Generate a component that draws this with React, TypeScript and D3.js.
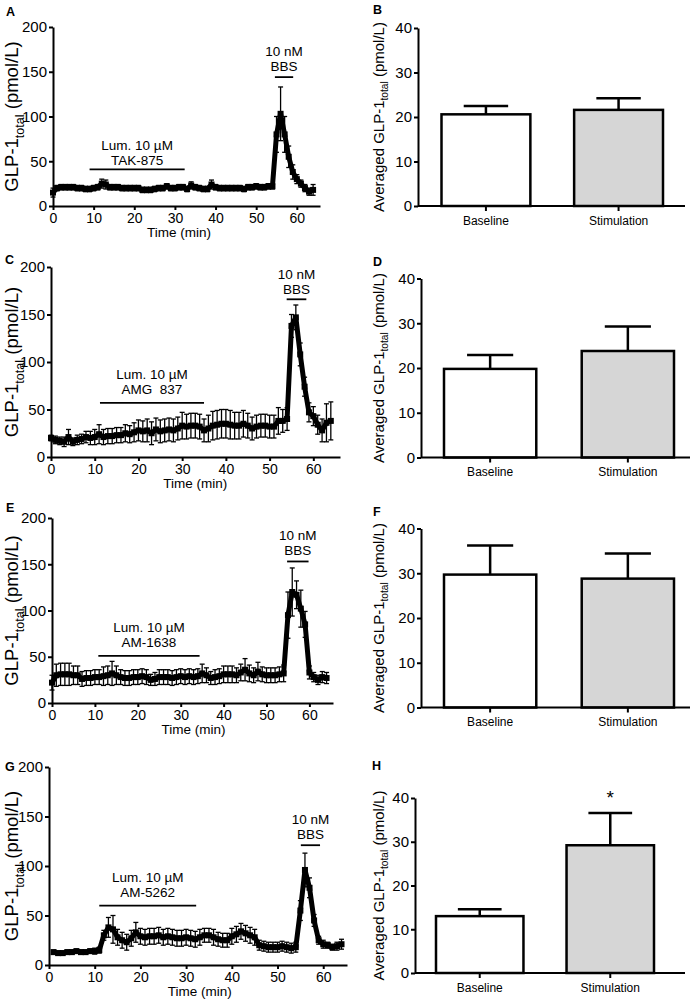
import React, { useRef, useEffect } from "react";
import * as d3 from "d3";

const FONT = "Arial, 'Liberation Sans', Helvetica, sans-serif";

// sampling times (min)
const minutes = [0, 1, 2, 3, 4, 5, 6, 7, 8, 9, 10, 11, 12, 13, 14, 15, 16, 17, 18, 19, 20, 21, 22, 23, 24, 25, 26, 27, 28, 29, 30, 31, 32, 33, 34, 35, 36, 37, 38, 39, 40, 41, 42, 43, 44, 45, 46, 47, 48, 49, 50, 51, 52, 53, 54, 55, 56, 57, 58, 59, 60, 61, 62, 63, 64];
const minutesG = [1, 2, 3, 4, 5, 6, 7, 8, 9, 10, 11, 12, 13, 14, 15, 16, 17, 18, 19, 20, 21, 22, 23, 24, 25, 26, 27, 28, 29, 30, 31, 32, 33, 34, 35, 36, 37, 38, 39, 40, 41, 42, 43, 44, 45, 46, 47, 48, 49, 50, 51, 52, 53, 54, 55, 56, 57, 58, 59, 60, 61, 62, 63, 64];

// A: TAK-875
const meanA = [15, 20, 21, 21, 21, 21, 20, 20, 19, 19, 20, 21, 25, 24, 21, 21, 21, 20, 20, 20, 20, 20, 18, 18, 18, 19, 20, 20, 22, 20, 20, 21, 21, 19, 23, 21, 20, 19, 19, 24, 21, 20, 20, 20, 20, 20, 20, 19, 21, 21, 22, 21, 21, 22, 22, 80, 103, 80, 55, 38, 30, 25, 20, 16, 18];
const errA = [5, 3, 3, 3, 3, 3, 3, 3, 3, 3, 3, 3, 5, 5, 3, 3, 3, 3, 3, 3, 3, 3, 3, 3, 3, 3, 3, 3, 3, 3, 3, 3, 3, 3, 4, 3, 3, 3, 3, 5, 3, 3, 3, 3, 3, 3, 3, 3, 3, 3, 3, 3, 3, 3, 3, 20, 30, 20, 12, 8, 5, 4, 4, 4, 6];

// C: AMG 837
const meanC = [20, 18, 17, 16, 21, 16, 18, 19, 21, 20, 21, 24, 21, 22, 22, 23, 23, 25, 24, 26, 28, 27, 28, 25, 29, 27, 28, 29, 28, 30, 33, 32, 33, 33, 32, 28, 30, 33, 34, 35, 35, 34, 33, 33, 35, 33, 30, 32, 33, 33, 32, 32, 38, 38, 40, 138, 147, 108, 74, 47, 43, 34, 28, 36, 38];
const errC = [3, 4, 4, 5, 8, 4, 5, 5, 6, 7, 8, 10, 8, 8, 8, 8, 8, 9, 9, 10, 11, 11, 12, 12, 12, 12, 12, 12, 12, 12, 14, 13, 13, 13, 13, 12, 14, 15, 15, 15, 15, 15, 14, 14, 14, 13, 12, 12, 12, 12, 12, 12, 14, 12, 12, 12, 13, 12, 10, 10, 10, 10, 12, 20, 20];

// E: AM-1638
const meanE = [22, 30, 31, 31, 31, 30, 30, 26, 27, 27, 28, 28, 29, 30, 32, 30, 28, 27, 27, 28, 28, 29, 28, 25, 26, 28, 28, 28, 27, 28, 29, 28, 29, 28, 29, 32, 30, 27, 28, 29, 31, 31, 31, 30, 33, 36, 32, 30, 34, 31, 30, 30, 30, 31, 32, 95, 120, 117, 102, 85, 33, 28, 25, 28, 27];
const errE = [8, 12, 12, 12, 12, 10, 10, 8, 8, 8, 8, 8, 10, 10, 13, 10, 8, 8, 8, 8, 8, 8, 8, 6, 7, 8, 8, 8, 8, 8, 8, 8, 8, 8, 8, 10, 8, 7, 8, 8, 9, 9, 9, 8, 9, 12, 9, 8, 10, 8, 8, 8, 8, 8, 9, 25, 26, 15, 20, 14, 7, 5, 5, 6, 6];

// G: AM-5262
const meanG = [13, 12, 12, 13, 13, 14, 13, 13, 14, 14, 15, 30, 38, 36, 28, 25, 23, 27, 33, 29, 28, 29, 29, 30, 28, 29, 28, 27, 27, 28, 27, 26, 28, 30, 30, 28, 26, 25, 25, 29, 31, 34, 32, 30, 28, 20, 19, 18, 18, 18, 19, 18, 17, 18, 55, 96, 78, 45, 25, 21, 20, 18, 19, 21];
const errG = [2, 2, 2, 2, 2, 2, 2, 2, 2, 3, 3, 5, 10, 14, 8, 8, 8, 8, 10, 8, 8, 8, 8, 8, 8, 8, 8, 8, 8, 8, 8, 8, 8, 7, 7, 8, 7, 7, 7, 8, 8, 8, 8, 8, 8, 5, 5, 5, 5, 5, 5, 5, 5, 5, 10, 17, 10, 6, 4, 4, 3, 3, 4, 5];

const timeTicks = [0, 10, 20, 30, 40, 50, 60];
const lineYTicks = [0, 50, 100, 150, 200];
const barYTicks = [0, 10, 20, 30, 40];

const drugA = ["Lum. 10 µM", "TAK-875"];
const drugC = ["Lum. 10 µM", "AMG\u00a0 837"];
const drugE = ["Lum. 10 µM", "AM-1638"];
const drugG = ["Lum. 10 µM", "AM-5262"];
const bbsText = ["10 nM", "BBS"];

// [from min, to min, level pmol/L]
const lumA = [9.0, 32.4, 41];
const bbsA = [54.6, 59.1, 144];
const lumC = [11.2, 35, 57];
const bbsC = [53.9, 58.4, 166];
const lumE = [10.8, 34.4, 51];
const bbsE = [54.8, 59.8, 153];
const lumG = [11, 32.2, 60];
const bbsG = [55.1, 59.3, 121];

const groups = ["Baseline", "Stimulation"];
const barMeanB = [20.6, 21.6];
const barErrB = [1.9, 2.6];
const barMeanD = [19.8, 23.8];
const barErrD = [3.1, 5.5];
const barMeanF = [29.7, 28.8];
const barErrF = [6.5, 5.6];
const barMeanH = [13.0, 29.2];
const barErrH = [1.6, 7.4];
const starsH = ["", "*"];

const linePanels = [
  { letter: "A", lx: 6, ly: 16, time: minutes, mean: meanA, err: errA, drug: drugA, lum: lumA, bbs: bbsA, lumGap: 4, bbsGap: 6,
    left: 53, right: 320, top: 27, bottom: 206, tMax: 65.7, titleT: 31 },
  { letter: "C", lx: 5, ly: 264, time: minutes, mean: meanC, err: errC, drug: drugC, lum: lumC, bbs: bbsC, lumGap: 9, bbsGap: 5,
    left: 51, right: 340, top: 267, bottom: 457, tMax: 66.1, titleT: 33 },
  { letter: "E", lx: 6, ly: 512, time: minutes, mean: meanE, err: errE, drug: drugE, lum: lumE, bbs: bbsE, lumGap: 9, bbsGap: 6,
    left: 52, right: 333, top: 518, bottom: 703, tMax: 65.5, titleT: 33 },
  { letter: "G", lx: 5, ly: 771, time: minutesG, mean: meanG, err: errG, drug: drugG, lum: lumG, bbs: bbsG, lumGap: 9, bbsGap: 6,
    left: 49, right: 347, top: 767, bottom: 965, tMax: 65.2, titleT: 33 },
];

const barPanels = [
  { letter: "B", lx: 373, ly: 14, mean: barMeanB, err: barErrB, stars: null,
    left: 418, right: 685, bandL: 441.5, bandR: 663, top: 28, bottom: 206 },
  { letter: "D", lx: 373, ly: 266, mean: barMeanD, err: barErrD, stars: null,
    left: 421, right: 690, bandL: 444, bandR: 674, top: 278.5, bottom: 457.5 },
  { letter: "F", lx: 373, ly: 516, mean: barMeanF, err: barErrF, stars: null,
    left: 421, right: 690, bandL: 444, bandR: 674, top: 528.5, bottom: 707.5 },
  { letter: "H", lx: 372, ly: 770, mean: barMeanH, err: barErrH, stars: starsH,
    left: 415, right: 685, bandL: 436, bandR: 654, top: 798, bottom: 973 },
];

function styleAxis(ax, size) {
  ax.select(".domain").attr("stroke-width", 2);
  ax.selectAll(".tick line").attr("stroke-width", 2);
  ax.selectAll(".tick text").attr("font-family", FONT).attr("font-size", size).attr("fill", "#000");
}

function yLabel(g, x, y, pre, size) {
  const t = g.append("text")
    .attr("transform", `translate(${x},${y}) rotate(-90)`)
    .attr("text-anchor", "middle")
    .attr("font-family", FONT)
    .attr("font-size", size);
  t.append("tspan").text(pre + "GLP-1");
  t.append("tspan").attr("font-size", size * 0.68).attr("dy", size * 0.3).text("total");
  t.append("tspan").attr("dy", -size * 0.3).text(" (pmol/L)");
}

function drawLinePanel(svg, p) {
  const g = svg.append("g");
  const x = d3.scaleLinear().domain([0, p.tMax]).range([p.left, p.right]);
  const y = d3.scaleLinear().domain([0, 200]).range([p.bottom, p.top]);

  const xa = g.append("g").attr("transform", `translate(0,${p.bottom})`)
    .call(d3.axisBottom(x).tickValues(timeTicks).tickSize(4).tickSizeOuter(0).tickPadding(3));
  styleAxis(xa, 14);
  const ya = g.append("g").attr("transform", `translate(${p.left},0)`)
    .call(d3.axisLeft(y).tickValues(lineYTicks).tickSize(4).tickSizeOuter(0).tickPadding(2));
  styleAxis(ya, 15);

  g.append("text")
    .attr("x", x(p.titleT)).attr("y", p.bottom + 31)
    .attr("text-anchor", "middle").attr("font-family", FONT).attr("font-size", 13.5)
    .text("Time (min)");
  yLabel(g, 18, (p.top + p.bottom) / 2, "", 18.5);

  const pts = p.time.map((t, i) => ({ t, m: p.mean[i], e: p.err[i] }));

  // error bars
  const eb = g.append("g").attr("stroke", "#000").attr("stroke-width", 1.3);
  pts.forEach((d) => {
    const cx = x(d.t);
    const y1 = y(d.m + d.e), y2 = y(d.m - d.e);
    eb.append("line").attr("x1", cx).attr("x2", cx).attr("y1", y1).attr("y2", y2);
    eb.append("line").attr("x1", cx - 2.5).attr("x2", cx + 2.5).attr("y1", y1).attr("y2", y1);
    eb.append("line").attr("x1", cx - 2.5).attr("x2", cx + 2.5).attr("y1", y2).attr("y2", y2);
  });

  const line = d3.line().x((d) => x(d.t)).y((d) => y(d.m));
  g.append("path").datum(pts)
    .attr("fill", "none").attr("stroke", "#000").attr("stroke-width", 5)
    .attr("stroke-linejoin", "round").attr("d", line);

  g.append("g").selectAll("rect").data(pts).join("rect")
    .attr("x", (d) => x(d.t) - 3).attr("y", (d) => y(d.m) - 3)
    .attr("width", 6).attr("height", 6).attr("fill", "#000");

  // treatment annotations
  const annotate = (span, lines, gap) => {
    const ly = y(span[2]);
    g.append("line").attr("x1", x(span[0])).attr("x2", x(span[1]))
      .attr("y1", ly).attr("y2", ly).attr("stroke", "#000").attr("stroke-width", 1.8);
    const cx = (x(span[0]) + x(span[1])) / 2;
    lines.forEach((s, i) => {
      g.append("text").attr("x", cx).attr("y", ly - gap - (lines.length - 1 - i) * 15)
        .attr("text-anchor", "middle").attr("font-family", FONT).attr("font-size", 13.5)
        .text(s);
    });
  };
  annotate(p.lum, p.drug, p.lumGap);
  annotate(p.bbs, bbsText, p.bbsGap);

  g.append("text").attr("x", p.lx).attr("y", p.ly)
    .attr("font-family", FONT).attr("font-weight", "bold").attr("font-size", 12.5).text(p.letter);
}

function drawBarPanel(svg, p) {
  const g = svg.append("g");
  const x = d3.scaleBand().domain(groups).range([p.bandL, p.bandR]).paddingInner(0.33).paddingOuter(0);
  const y = d3.scaleLinear().domain([0, 40]).range([p.bottom, p.top]);

  const ya = g.append("g").attr("transform", `translate(${p.left},0)`)
    .call(d3.axisLeft(y).tickValues(barYTicks).tickSize(4).tickSizeOuter(0).tickPadding(2));
  styleAxis(ya, 15);

  const bars = groups.map((k, i) => ({ k, m: p.mean[i], e: p.err[i], s: p.stars ? p.stars[i] : "" }));

  // error bars (upper only)
  bars.forEach((d) => {
    const cx = x(d.k) + x.bandwidth() / 2;
    const cw = x.bandwidth() * 0.25;
    g.append("line").attr("x1", cx).attr("x2", cx).attr("y1", y(d.m)).attr("y2", y(d.m + d.e))
      .attr("stroke", "#000").attr("stroke-width", 2.5);
    g.append("line").attr("x1", cx - cw).attr("x2", cx + cw).attr("y1", y(d.m + d.e)).attr("y2", y(d.m + d.e))
      .attr("stroke", "#000").attr("stroke-width", 2.5);
    if (d.s) {
      g.append("text").attr("x", cx).attr("y", y(d.m + d.e) - 9)
        .attr("text-anchor", "middle").attr("font-family", FONT).attr("font-size", 19).text(d.s);
    }
  });

  g.selectAll("rect.bar").data(bars).join("rect")
    .attr("class", "bar")
    .attr("x", (d) => x(d.k)).attr("width", x.bandwidth())
    .attr("y", (d) => y(d.m)).attr("height", (d) => y(0) - y(d.m))
    .attr("fill", (d, i) => (i === 0 ? "#fff" : "#d6d6d6"))
    .attr("stroke", "#000").attr("stroke-width", 2.5);

  const xa = g.append("g").attr("transform", `translate(0,${p.bottom})`)
    .call(d3.axisBottom(x).tickSize(5).tickSizeOuter(0).tickPadding(5));
  xa.select(".domain").remove();
  xa.selectAll(".tick line").attr("stroke-width", 2);
  xa.selectAll(".tick text").attr("font-family", FONT).attr("font-size", 12).attr("fill", "#000");
  g.append("line").attr("x1", p.left).attr("x2", p.right).attr("y1", p.bottom).attr("y2", p.bottom)
    .attr("stroke", "#000").attr("stroke-width", 2);

  yLabel(g, 383.5, (p.top + p.bottom) / 2, "Averaged ", 15);

  g.append("text").attr("x", p.lx).attr("y", p.ly)
    .attr("font-family", FONT).attr("font-weight", "bold").attr("font-size", 12.5).text(p.letter);
}

export default function App() {
  const svgRef = useRef(null);

  useEffect(() => {
    const svg = d3.select(svgRef.current);
    svg.selectAll("*").remove();
    svg.append("rect").attr("width", 700).attr("height", 1007).attr("fill", "#fff");
    linePanels.forEach((p) => drawLinePanel(svg, p));
    barPanels.forEach((p) => drawBarPanel(svg, p));
  }, []);

  return (
    <svg
      ref={svgRef}
      width={700}
      height={1007}
      viewBox="0 0 700 1007"
      style={{ position: "absolute", left: 0, top: 0, display: "block" }}
    />
  );
}
